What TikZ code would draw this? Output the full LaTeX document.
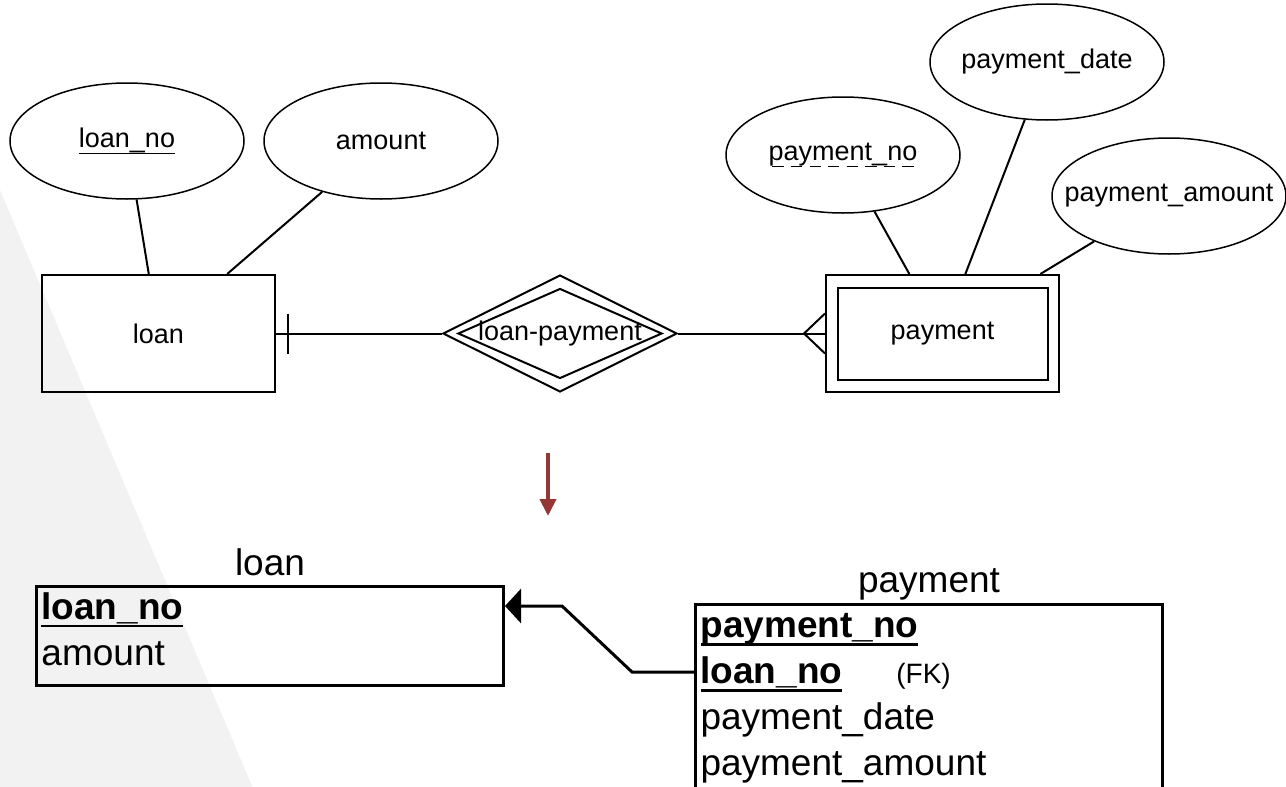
\documentclass[tikz,border=0pt]{standalone}
\usepackage{fontspec}
\setmainfont{Liberation Sans}
\usetikzlibrary{shapes.geometric,arrows.meta}

\definecolor{bggray}{HTML}{F2F2F2}
\definecolor{darkred}{HTML}{953735}

\newcommand\erfont{\fontsize{27}{32}\selectfont}
\newcommand\tabfont{\fontsize{37}{46}\selectfont}
% key underlines: table, er solid, er dashed
\newcommand\pkey[1]{\leavevmode\setbox0\hbox{#1}\rlap{\vrule width\wd0 height -0.15em depth 0.22em}\box0}
\newcommand\erkey[1]{\leavevmode\setbox0\hbox{#1}\rlap{\vrule width\wd0 height -0.19em depth 0.245em}\box0}
\newcommand\wkey[1]{\leavevmode\setbox0\hbox{#1}\rlap{\hbox to\wd0{\xleaders\hbox to 0.68em{\hss\vrule width 0.42em height -0.19em depth 0.245em\hss}\hfill}}\box0}

\begin{document}
\begin{tikzpicture}[x=1pt, y=-1pt,
    attr/.style={draw, ellipse, line width=1.5pt, minimum width=234pt, minimum height=116pt, inner sep=0pt, label={[font=\erfont]center:#1}},
    entity/.style={draw, rectangle, line width=2pt, minimum width=233pt, minimum height=117pt, font=\erfont},
    rel/.style={draw, diamond, line width=2pt, inner sep=0pt},
    er/.style={line width=2pt},
    tbl/.style={draw, rectangle, line width=3pt, anchor=north west, align=left, text width=457pt, inner xsep=5pt, inner ysep=6pt, font=\tabfont},
    ttl/.style={anchor=base, inner sep=0pt, font=\tabfont}]
    \useasboundingbox (0,0) rectangle (1286,787);
    \clip (0,0) rectangle (1286,787);
    \fill[bggray] (0,190) -- (258,800) -- (0,800) -- cycle;

    % er diagram
    \node[attr={\erkey{loan\_no}}] (loanno) at (127,141) {};
    \node[attr={amount}] (amount) at (381,141) {};
    \node[entity] (loan) at (158.5,333.5) {loan};

    \node[rel, minimum width=234pt, minimum height=117pt, label={[font=\erfont]center:loan-payment}] (lp) at (560,333.5) {};
    \node[rel, minimum width=204pt, minimum height=90pt] (lpin) at (lp.center) {};

    \node[entity] (payment) at (942.5,333.5) {payment};
    \node[draw, line width=2pt, minimum width=210pt, minimum height=92pt] (paymentin) at (payment.center) {};
    \node[attr={\wkey{payment\_no}}] (payno) at (843,155) {};
    \node[attr={payment\_date}] (paydate) at (1047,62) {};
    \node[attr={payment\_amount}] (payamount) at (1169,196) {};

    \draw[er] (loanno) -- (loan);
    \draw[er] (amount) -- (loan);
    \draw[er] (payno) -- (payment);
    \draw[er] (paydate) -- (payment);
    \draw[er] (payamount) -- (payment);

    \draw[er] (loan) -- (lp);
    \draw[er] ([xshift=12pt,yshift=20pt]loan.east) -- ([xshift=12pt,yshift=-20pt]loan.east);
    \draw[er] (lp) -- (payment);
    \draw[er] ([yshift=20pt]payment.west) -- ([xshift=-21pt]payment.west) -- ([yshift=-20pt]payment.west);

    % mapping arrow
    \coordinate (downtop) at (548,453);
    \coordinate (downend) at (548,516);
    \draw[darkred, line width=4pt, -{Triangle[length=17pt, width=16pt]}] (downtop) -- (downend);

    % relational tables
    \node[tbl, minimum height=93pt] (loantab) at (35,585) {\pkey{\textbf{loan\_no}}\\amount\strut};
    \node[ttl] (loanttl) at ([yshift=10pt]loantab.north) {loan};

    \node[tbl, inner ysep=9pt] (paytab) at (694,603) {\pkey{\textbf{payment\_no}}\\
      \pkey{\textbf{loan\_no}}\hspace{54pt}{\fontsize{28}{28}\selectfont(FK)}\\
      payment\_date\\
      payment\_amount\strut};
    \node[ttl] (payttl) at ([yshift=11pt]paytab.north) {payment};

    \draw[line width=3pt, -{Triangle[length=16pt, width=34pt]}] (paytab.west |- 0,672) -- (632,672) -- (562,606) -- (loantab.east |- 0,606);
\end{tikzpicture}
\end{document}
